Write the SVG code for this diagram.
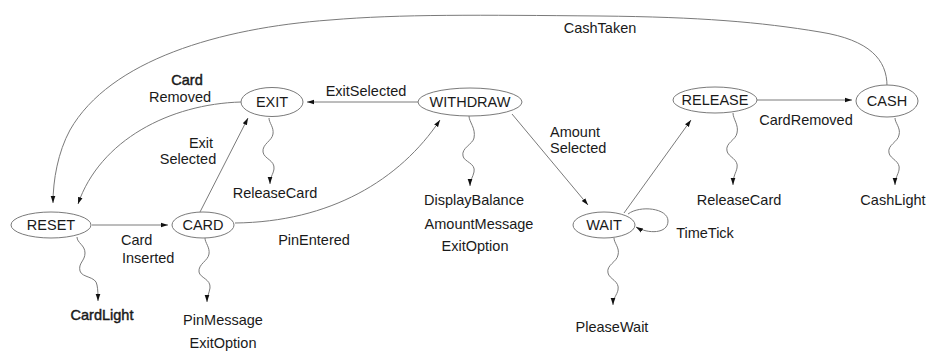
<svg xmlns="http://www.w3.org/2000/svg" width="930" height="354" viewBox="0 0 930 354">
<style>
text{font-family:"Liberation Sans",Arial,Helvetica,sans-serif;font-size:14.5px;fill:#1a1a1a}
.n{text-anchor:middle}
.s{fill:#fff;stroke:#7a7a7a;stroke-width:1}
.e{fill:none;stroke:#7a7a7a;stroke-width:1;marker-end:url(#ah)}
.b{stroke:#1a1a1a;stroke-width:0.45}
</style>
<defs>
<marker id="ah" markerWidth="8" markerHeight="6" refX="7" refY="3" orient="auto" markerUnits="userSpaceOnUse">
<path d="M0,0.7 L7,3 L0,5.3 z" fill="#111"/>
</marker>
</defs>
<rect width="930" height="354" fill="#fff"/>
<g id="connectors">
<path class="e" d="M 887 86 C 887 60, 870 40, 820 32 C 760 22, 700 17, 600 16 C 480 15, 400 14, 330 20 C 220 28, 110 60, 70 130 C 58 152, 53 180, 53 203"/>
<path class="e" d="M 241 102 C 170 104, 100 140, 78 204"/>
<path class="e" d="M 92 225 L 168 225"/>
<path class="e" d="M 200 212 L 248 118"/>
<path class="e" d="M 235 223 C 330 222, 400 180, 440 120"/>
<path class="e" d="M 418 102 L 307 102"/>
<path class="e" d="M 512 114 L 588 205"/>
<path class="e" d="M 624 213 L 691 120"/>
<path class="e" d="M 757 100 L 852 100"/>
<path class="e" d="M 628 214 C 640 205, 668 208, 668 221 C 668 234, 648 234, 636 227"/>
<path class="e" d="M 77 237 c 0 6, 8 8, 8 16 c 0 8, -7 10, -5 18 c 2 7, 16 5, 17 14 c 1 5, 1 10, 1 16"/>
<path class="e" d="M 205 238 c 0 5, 5 9, 4 16 c -1 7, -11 10, -10 18 c 1 6, 12 7, 11 16 c -1 6, -3 8, -3 14"/>
<path class="e" d="M 269 118 c 0 5, 5 9, 4 16 c -1 7, -11 10, -10 18 c 1 7, 12 8, 11 17 c -1 6, -4 8, -4 15"/>
<path class="e" d="M 469 116 c 0 6, 7 12, 5 22 c -1 6, -13 10, -11 18 c 1 6, 13 7, 11 16 c -1 5, -4 8, -4 14"/>
<path class="e" d="M 614 238 c 0 5, 6 10, 4 17 c -1 7, -12 10, -10 18 c 1 6, 12 8, 10 17 c -1 5, -5 8, -5 15"/>
<path class="e" d="M 733 113 c 0 6, 6 12, 4 20 c -1 7, -12 10, -10 18 c 1 6, 12 8, 10 17 c -1 5, -4 8, -4 17"/>
<path class="e" d="M 895 118 c 0 5, 6 10, 4 17 c -1 7, -12 10, -10 18 c 1 6, 12 8, 10 17 c -1 5, -4 8, -4 15"/>
</g>
<g id="labels">
<text class="n" x="600" y="33">CashTaken</text>
<text class="n b" x="187" y="85">Card</text>
<text class="n" x="180" y="102">Removed</text>
<text class="n" x="201" y="148">Exit</text>
<text class="n" x="188" y="164">Selected</text>
<text x="121" y="245">Card</text>
<text x="122" y="263">Inserted</text>
<text class="n" x="314" y="245">PinEntered</text>
<text class="n" x="366" y="96">ExitSelected</text>
<text x="550" y="137">Amount</text>
<text x="550" y="153">Selected</text>
<text class="n" x="806" y="125">CardRemoved</text>
<text class="n" x="705" y="238">TimeTick</text>
<text class="n b" x="102" y="320">CardLight</text>
<text class="n" x="223" y="325">PinMessage</text>
<text class="n" x="223" y="348">ExitOption</text>
<text class="n" x="275" y="198">ReleaseCard</text>
<text class="n" x="474" y="205">DisplayBalance</text>
<text class="n" x="479" y="229">AmountMessage</text>
<text class="n" x="475" y="251">ExitOption</text>
<text class="n" x="612" y="332">PleaseWait</text>
<text class="n" x="739" y="205">ReleaseCard</text>
<text class="n" x="893" y="205">CashLight</text>
</g>
<g id="RESET"><ellipse class="s" cx="51" cy="225" rx="40" ry="13"/><text class="n" x="51" y="230">RESET</text></g>
<g id="CARD"><ellipse class="s" cx="203" cy="225" rx="31" ry="13"/><text class="n" x="203" y="230">CARD</text></g>
<g id="EXIT"><ellipse class="s" cx="272" cy="102" rx="31" ry="14.5"/><text class="n" x="272" y="107">EXIT</text></g>
<g id="WITHDRAW"><ellipse class="s" cx="470" cy="102" rx="52" ry="14"/><text class="n" x="470" y="107">WITHDRAW</text></g>
<g id="WAIT"><ellipse class="s" cx="604" cy="225" rx="31" ry="13"/><text class="n" x="604" y="230">WAIT</text></g>
<g id="RELEASE"><ellipse class="s" cx="715" cy="100" rx="42" ry="13"/><text class="n" x="715" y="105">RELEASE</text></g>
<g id="CASH"><ellipse class="s" cx="887" cy="101" rx="31" ry="16"/><text class="n" x="887" y="106">CASH</text></g>
</svg>
